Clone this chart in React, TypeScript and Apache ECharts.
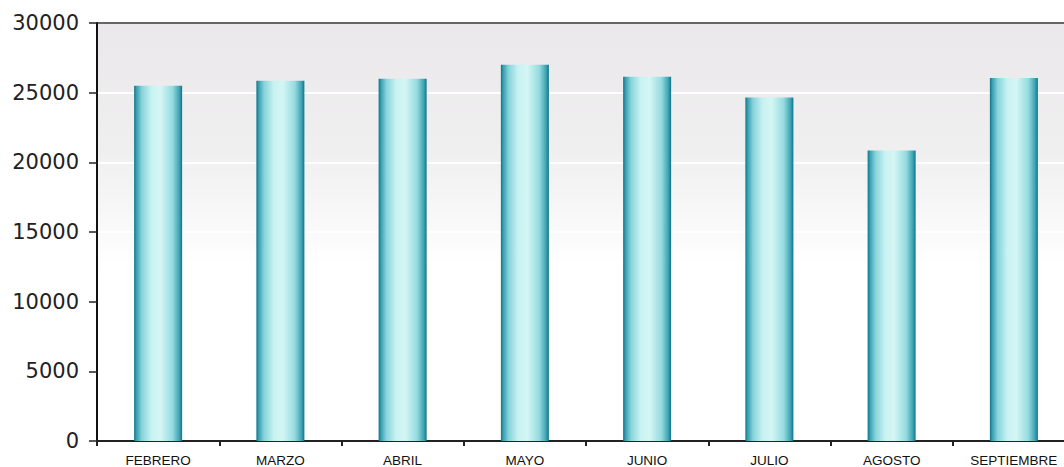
import React, { useEffect, useRef } from "react";
import * as echarts from "echarts";

const months = ["FEBRERO", "MARZO", "ABRIL", "MAYO", "JUNIO", "JULIO", "AGOSTO", "SEPTIEMBRE"];
const values = [25500, 25850, 26000, 27000, 26150, 24650, 20850, 26050];
const yMin = 0;
const yMax = 30000;
const yStep = 5000;

export default function App() {
  const ref = useRef<HTMLDivElement>(null);
  useEffect(() => {
    if (!ref.current) return;
    const chart = echarts.init(ref.current, undefined, { renderer: "svg" });
    chart.setOption({
      animation: false,
      backgroundColor: "#ffffff",
      grid: {
        left: 97,
        top: 23,
        bottom: 26,
        right: -11,
        outerBoundsMode: "none",
        containLabel: false,
        show: true,
        borderWidth: 0,
        backgroundColor: new echarts.graphic.LinearGradient(0, 0, 0, 1, [
          { offset: 0, color: "#eae8ea" },
          { offset: 0.3, color: "#f0eff0" },
          { offset: 0.5, color: "#fafafa" },
          { offset: 0.58, color: "#ffffff" },
          { offset: 1, color: "#ffffff" },
        ]),
      },
      xAxis: {
        type: "category",
        data: months,
        axisLine: { lineStyle: { color: "#222", width: 2 } },
        axisTick: { show: true, length: 5, lineStyle: { color: "#222", width: 2 } },
        axisLabel: {
          color: "#111",
          fontFamily: "Liberation Sans",
          fontSize: 13.5,
          margin: 12,
        },
      },
      yAxis: {
        type: "value",
        min: yMin,
        max: yMax,
        interval: yStep,
        axisLine: { show: true, lineStyle: { color: "#111", width: 2 } },
        axisTick: { show: true, length: 8, lineStyle: { color: "#222", width: 1.5 } },
        axisLabel: {
          color: "#222",
          fontFamily: "DejaVu Sans",
          fontSize: 21,
          margin: 18,
          formatter: (v: number) => String(v),
        },
        splitLine: {
          show: true,
          lineStyle: {
            color: ["#ffffff", "#ffffff", "#ffffff", "#ffffff", "#ffffff", "#ffffff", "#666666"],
            width: 2,
          },
        },
      },
      series: [
        {
          type: "bar",
          data: values,
          barWidth: 48,
          itemStyle: {
            color: new echarts.graphic.LinearGradient(0, 0, 1, 0, [
              { offset: 0, color: "#0d7489" },
              { offset: 0.05, color: "#3a9fb1" },
              { offset: 0.16, color: "#86d3da" },
              { offset: 0.36, color: "#c8f2f2" },
              { offset: 0.55, color: "#d4f6f4" },
              { offset: 0.8, color: "#95dbdf" },
              { offset: 0.94, color: "#3fa3b3" },
              { offset: 1, color: "#0d7489" },
            ]),
          },
        },
      ],
    });
    return () => chart.dispose();
  }, []);
  return (
    <div
      ref={ref}
      style={{ position: "fixed", left: 0, top: 0, width: 1064, height: 467 }}
    />
  );
}
